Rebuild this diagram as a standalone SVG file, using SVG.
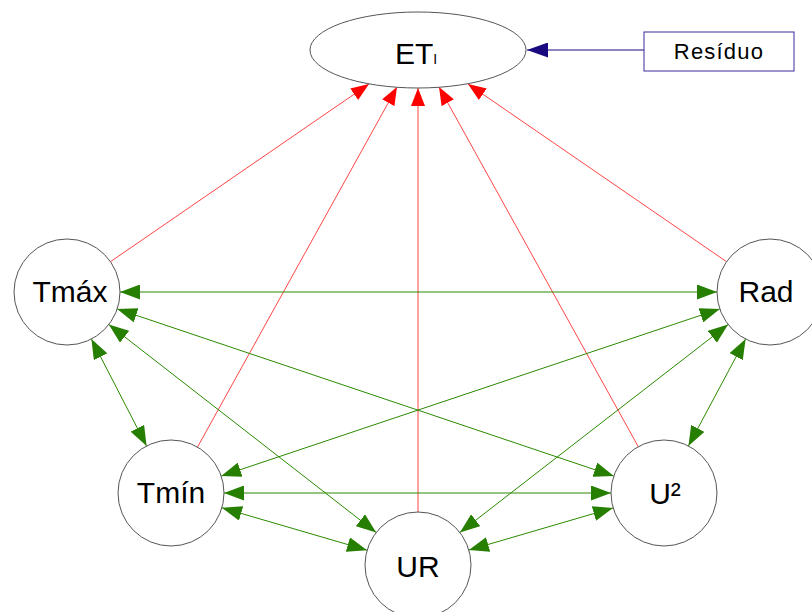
<svg xmlns="http://www.w3.org/2000/svg" width="812" height="612" viewBox="0 0 812 612">
<defs>
<marker id="g" markerUnits="userSpaceOnUse" markerWidth="20" markerHeight="15" refX="20" refY="7.5" orient="auto-start-reverse"><path d="M0,0 L20,7.5 L0,15 z" fill="#267f00"/></marker>
<marker id="r" markerUnits="userSpaceOnUse" markerWidth="18" markerHeight="14" refX="18" refY="7" orient="auto"><path d="M0,0 L18,7 L0,14 z" fill="#ff0000"/></marker>
<marker id="n" markerUnits="userSpaceOnUse" markerWidth="21" markerHeight="15" refX="21" refY="7.5" orient="auto"><path d="M0,0 L21,7.5 L0,15 z" fill="#1a0a80"/></marker>
<style>
.node{fill:#fff;stroke:#555;stroke-width:1}
.lbl{font-family:"Liberation Sans",Arial,sans-serif;font-size:30px;fill:#000;text-anchor:middle}
.gr{stroke:#2a8a00;stroke-width:1;fill:none;marker-start:url(#g);marker-end:url(#g)}
.rd{stroke:#ff3030;stroke-width:0.9;fill:none;marker-end:url(#r)}
</style>
</defs>
<rect width="812" height="612" fill="#fff"/>
<g id="connectors">
<line class="rd" x1="110" y1="262" x2="369" y2="84"/>
<line class="rd" x1="197" y1="448" x2="397" y2="87"/>
<line class="rd" x1="418" y1="512" x2="418" y2="88"/>
<line class="rd" x1="639" y1="448" x2="439" y2="87"/>
<line class="rd" x1="727" y1="262" x2="468" y2="84"/>
<line class="gr" x1="120" y1="292" x2="717" y2="292"/>
<line class="gr" x1="91.4" y1="339" x2="146.6" y2="446"/>
<line class="gr" x1="745.6" y1="339" x2="688.4" y2="446"/>
<line class="gr" x1="117.2" y1="308.9" x2="613.8" y2="476.1"/>
<line class="gr" x1="719.8" y1="308.9" x2="221.2" y2="476.1"/>
<line class="gr" x1="108.8" y1="324.5" x2="376.2" y2="532.5"/>
<line class="gr" x1="728.1" y1="324.5" x2="459.9" y2="532.5"/>
<line class="gr" x1="224" y1="493" x2="611" y2="493"/>
<line class="gr" x1="221.9" y1="507.8" x2="367.1" y2="550.2"/>
<line class="gr" x1="613.1" y1="507.9" x2="468.9" y2="550.1"/>
<line x1="644" y1="50" x2="527" y2="50" stroke="#1a0a80" stroke-width="1" marker-end="url(#n)"/>
</g>
<g id="ET">
<ellipse class="node" cx="418" cy="50" rx="108" ry="38"/>
<text class="lbl" x="416" y="64">ET<tspan font-size="14">I</tspan></text>
</g>
<g id="Residuo">
<rect x="644" y="32" width="150" height="39" fill="#fff" stroke="#3a2a9a" stroke-width="1"/>
<text x="719" y="59" font-family="Liberation Sans, Arial, sans-serif" font-size="22" letter-spacing="1.2" text-anchor="middle">Resíduo</text>
</g>
<g id="Tmax">
<circle class="node" cx="67" cy="292" r="53"/>
<text class="lbl" x="70" y="302">Tmáx</text>
</g>
<g id="Rad">
<circle class="node" cx="770" cy="292" r="53"/>
<text class="lbl" x="766" y="302">Rad</text>
</g>
<g id="Tmin">
<circle class="node" cx="171" cy="493" r="53"/>
<text class="lbl" x="171" y="503">Tmín</text>
</g>
<g id="U2">
<circle class="node" cx="664" cy="493" r="53"/>
<text class="lbl" x="665" y="504">U²</text>
</g>
<g id="UR">
<circle class="node" cx="418" cy="565" r="53"/>
<text class="lbl" x="418" y="577">UR</text>
</g>
</svg>
